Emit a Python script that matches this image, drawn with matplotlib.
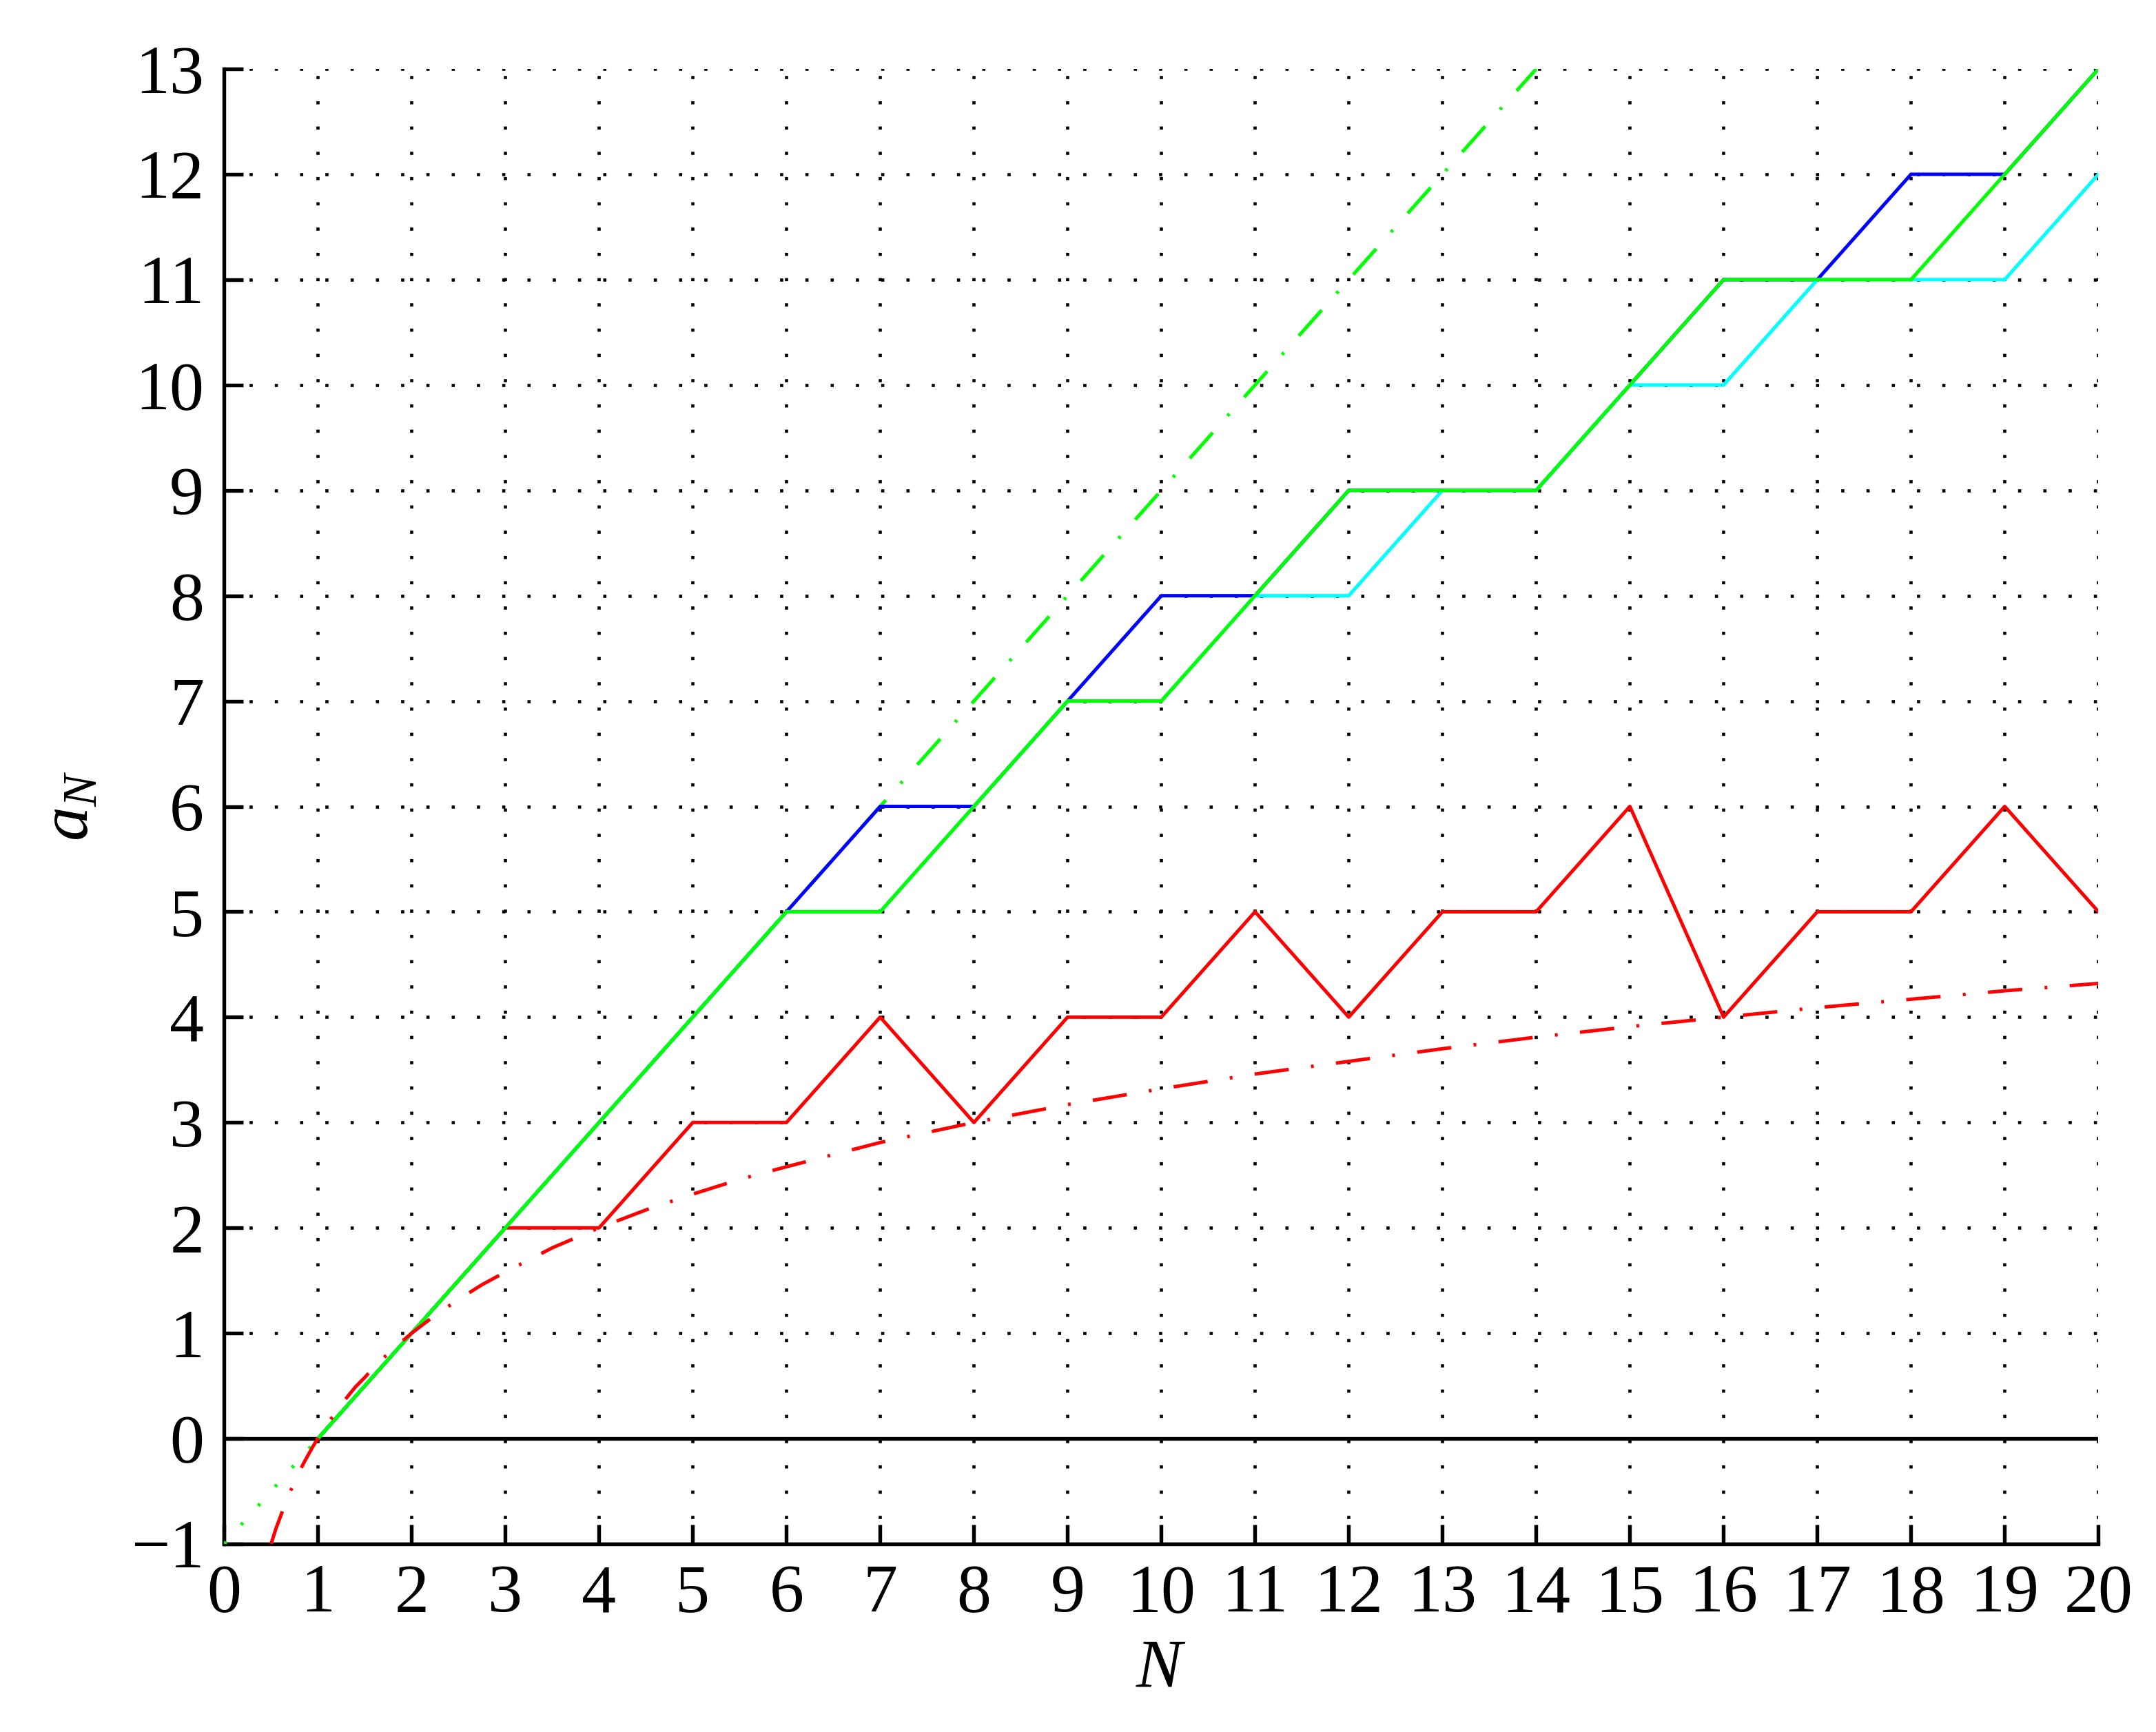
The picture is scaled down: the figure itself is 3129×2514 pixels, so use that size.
import matplotlib
matplotlib.use("Agg")
import matplotlib.pyplot as plt

# data
n = list(range(1, 21))
a_red = [0, 1, 2, 2, 3, 3, 4, 3, 4, 4, 5, 4, 5, 5, 6, 4, 5, 5, 6, 5]
a_blue = [0, 1, 2, 3, 4, 5, 6, 6, 7, 8, 8, 9, 9, 9, 10, 11, 11, 12, 12, 13]
a_cyan = [0, 1, 2, 3, 4, 5, 5, 6, 7, 7, 8, 8, 9, 9, 10, 10, 11, 11, 11, 12]
a_green = [0, 1, 2, 3, 4, 5, 5, 6, 7, 7, 8, 9, 9, 9, 10, 11, 11, 11, 12, 13]

# straight upper bound (green), dotted part then dash-dot part
bound_dot_n = [0, 1]
bound_dot_a = [-1, 0]
bound_dd_n = [1, 14]
bound_dd_a = [0, 13]

# lower curve (red dash-dot)
low_n = [0.5, 0.55, 0.6, 0.65, 0.7, 0.75, 0.8, 0.85, 0.9, 0.95, 1, 1.1, 1.2, 1.3,
         1.4, 1.5, 1.6, 1.8, 2, 2.25, 2.5, 2.75, 3, 3.5, 4, 4.5, 5, 5.5, 6, 7, 8,
         9, 10, 11, 12, 13, 14, 15, 16, 17, 18, 19, 20]
low_a = [-1.00, -0.86, -0.74, -0.62, -0.51, -0.42, -0.32, -0.23, -0.15, -0.07, 0,
         0.14, 0.26, 0.38, 0.49, 0.58, 0.68, 0.85, 1, 1.17, 1.32, 1.46, 1.58, 1.81,
         2, 2.17, 2.32, 2.46, 2.58, 2.81, 3, 3.17, 3.32, 3.46, 3.58, 3.70, 3.81,
         3.91, 4, 4.09, 4.17, 4.25, 4.32]

xticks = list(range(0, 21))
yticks = list(range(-1, 14))

plt.rcParams['font.family'] = ['Liberation Serif', 'DejaVu Serif']
plt.rcParams['mathtext.fontset'] = 'custom'
plt.rcParams['mathtext.rm'] = 'Liberation Serif'
plt.rcParams['mathtext.it'] = 'Liberation Serif:italic'

fig = plt.figure(figsize=(10.43, 8.38), dpi=300)
ax = fig.add_axes([0.104, 0.1086, 0.8693, 0.8516])

lw = 1.2
dd = (0, (10, 6.5, 0.8, 6.5))  # matlab-ish dash-dot

ax.axhline(0, color='black', lw=1.3, zorder=2)
# bound first so the staircases sit on top of it
ax.plot(bound_dot_n, bound_dot_a, color=(0, 1, 0), lw=lw, linestyle=(0, (0.8, 6.6)), zorder=3)
ax.plot(bound_dd_n, bound_dd_a, color=(0, 1, 0), lw=lw, linestyle=dd, zorder=3)
ax.plot(n, a_red, color=(1, 0, 0), lw=lw, zorder=3)
ax.plot(n, a_blue, color=(0, 0, 1), lw=lw, zorder=3)
ax.plot(n, a_cyan, color=(0, 1, 1), lw=lw, zorder=3)
ax.plot(n, a_green, color=(0, 1, 0), lw=lw, zorder=3)
ax.plot(low_n, low_a, color=(1, 0, 0), lw=lw, linestyle=dd, zorder=4)

ax.set_xlim(0, 20)
ax.set_ylim(-1, 13)
ax.set_xticks(xticks)
ax.set_yticks(yticks)
ax.set_yticklabels(['\u22121' if v < 0 else str(v) for v in yticks])

ax.grid(True, color='black', lw=1.1, linestyle=(0, (1, 7)))
ax.set_axisbelow(True)

for side in ['top', 'right']:
    ax.spines[side].set_visible(False)
for side in ['left', 'bottom']:
    ax.spines[side].set_linewidth(1.3)

ax.tick_params(direction='in', length=6.7, width=1.3, labelsize=24, pad=7,
               top=False, right=False)

ax.set_xlabel('$N$', fontsize=24, labelpad=4.5)
ax.set_ylabel('$a_N$', fontsize=24, labelpad=10)

fig.savefig('out.png', dpi=300)
